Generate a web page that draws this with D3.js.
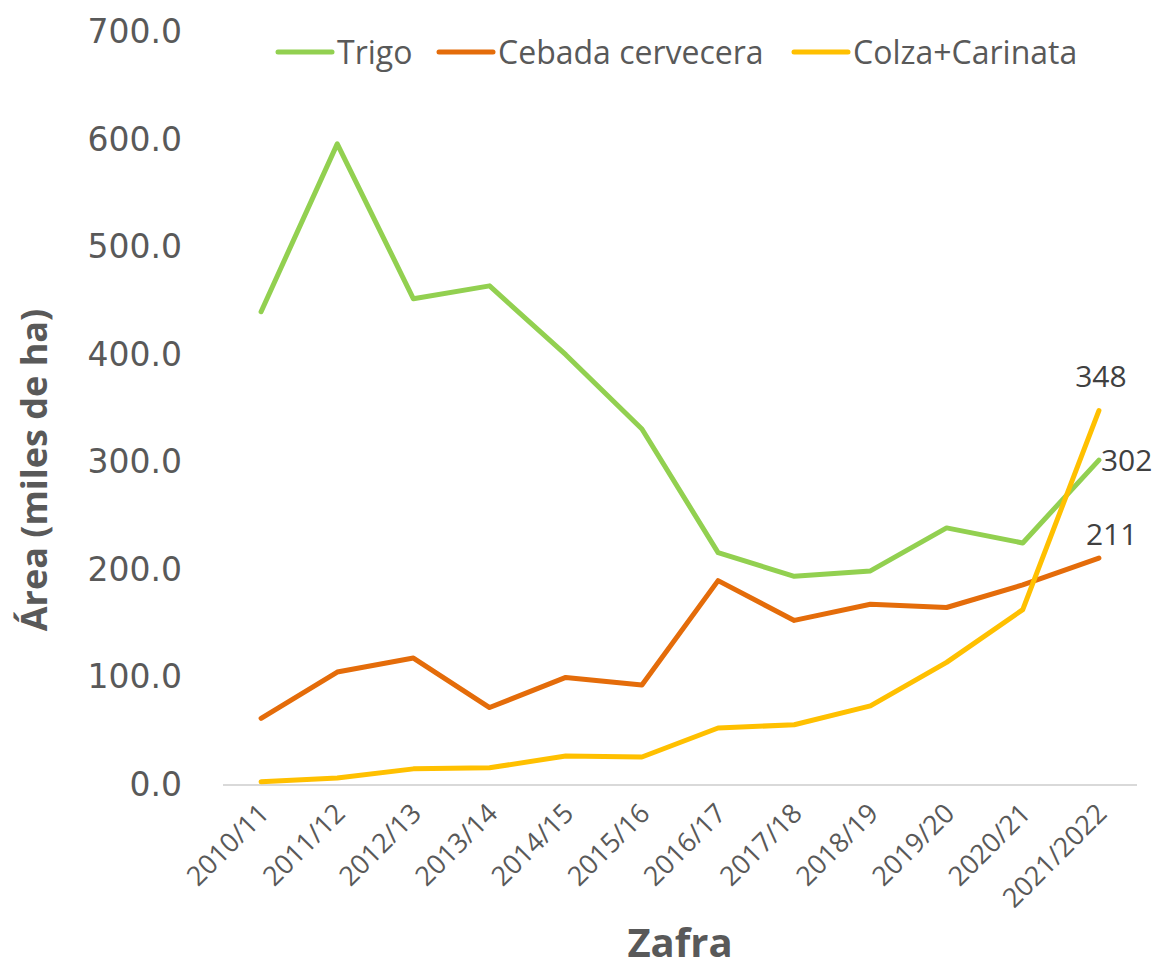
<!DOCTYPE html>
<html>
<head>
<meta charset="utf-8">
<script src="https://cdn.jsdelivr.net/npm/d3@7"></script>
<style>
  body { margin: 0; background: #fff; }
  text { font-family: "Open Sans", sans-serif; }
</style>
</head>
<body>
<div id="chart"></div>
<script>
// data
const zafras = ["2010/11","2011/12","2012/13","2013/14","2014/15","2015/16",
                "2016/17","2017/18","2018/19","2019/20","2020/21","2021/2022"];
const trigo   = [440, 596, 452, 464, 400, 331, 216, 194, 199, 239, 225, 302];
const cebada  = [62, 105, 118, 72, 100, 93, 190, 153, 168, 165, 186, 211];
const colza   = [3, 6.5, 15, 16, 27, 26, 53, 56, 73.5, 114, 163, 348];
const yTicks  = [0, 100, 200, 300, 400, 500, 600, 700];
const seriesNames = ["Trigo", "Cebada cervecera", "Colza+Carinata"];
const seriesColors = ["#92D050", "#E46C0A", "#FFC000"];

const w = 1161, h = 969;
const margin = {left: 223, right: 24, top: 32, bottom: 184};

const svg = d3.select("#chart").append("svg")
  .attr("width", w).attr("height", h);

const x = d3.scalePoint().domain(zafras)
  .range([margin.left, w - margin.right]).padding(0.5);
const y = d3.scaleLinear().domain([0, 700])
  .range([h - margin.bottom, margin.top]);

// y axis, labels only
const yAxis = svg.append("g")
  .attr("transform", "translate(" + margin.left + ",0)")
  .call(d3.axisLeft(y).tickValues(yTicks).tickFormat(d3.format(".1f")).tickSize(0).tickPadding(41));
yAxis.select(".domain").remove();
yAxis.selectAll("text")
  .style("font-family", "'DejaVu Sans', Verdana, sans-serif")
  .style("font-size", "33px").attr("fill", "#595959");

// x axis
const xAxis = svg.append("g")
  .attr("transform", "translate(0," + y(0) + ")")
  .call(d3.axisBottom(x).tickSize(0).tickPadding(0));
xAxis.select(".domain")
  .attr("d", "M" + margin.left + ",0H" + (w - margin.right))
  .attr("stroke", "#d9d9d9").attr("stroke-width", 2);
xAxis.selectAll("text")
  .attr("text-anchor", "end")
  .attr("dy", null)
  .attr("transform", "translate(9,30) rotate(-45)")
  .style("font-size", "27px").attr("fill", "#595959");

// lines
const allSeries = [trigo, cebada, colza];
const line = d3.line().x((d, i) => x(zafras[i])).y(d => y(d));

svg.selectAll("path.serie")
  .data(allSeries)
  .enter()
  .append("path")
  .attr("class", "serie")
  .attr("d", d => line(d))
  .attr("fill", "none")
  .attr("stroke", (d, i) => seriesColors[i])
  .attr("stroke-width", 5)
  .attr("stroke-linejoin", "round")
  .attr("stroke-linecap", "round");

// end labels
const last = zafras.length - 1;
const labelOffsets = [[2, 11, "start"], [-13, -13, "start"], [2, -24, "middle"]];
svg.selectAll("text.endlab")
  .data(allSeries)
  .enter()
  .append("text")
  .attr("class", "endlab")
  .attr("x", (d, i) => x(zafras[last]) + labelOffsets[i][0])
  .attr("y", (d, i) => y(d[last]) + labelOffsets[i][1])
  .attr("text-anchor", (d, i) => labelOffsets[i][2])
  .style("font-size", "30px")
  .attr("fill", "#404040")
  .text(d => d[last]);

// legend
const legendX = [278, 439, 794];
const lg = svg.selectAll("g.legend")
  .data(seriesNames)
  .enter()
  .append("g")
  .attr("class", "legend")
  .attr("transform", (d, i) => "translate(" + legendX[i] + ",52)");
lg.append("line")
  .attr("x1", 0).attr("x2", 54).attr("y1", 0).attr("y2", 0)
  .attr("stroke", (d, i) => seriesColors[i])
  .attr("stroke-width", 5).attr("stroke-linecap", "round");
lg.append("text")
  .attr("x", 59).attr("y", 12)
  .style("font-size", "32px").attr("fill", "#595959")
  .text(d => d);

// axis titles
svg.append("text")
  .attr("transform", "translate(47,470) rotate(-90)")
  .attr("text-anchor", "middle")
  .style("font-size", "36px").style("font-weight", "bold")
  .attr("fill", "#595959")
  .text("Área (miles de ha)");

svg.append("text")
  .attr("x", 680).attr("y", 957)
  .attr("text-anchor", "middle")
  .style("font-size", "40px").style("font-weight", "bold")
  .attr("fill", "#595959")
  .text("Zafra");
</script>
</body>
</html>
